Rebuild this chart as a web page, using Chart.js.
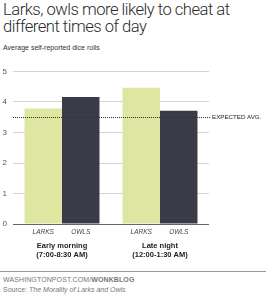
<!DOCTYPE html>
<html>
<head>
<meta charset="utf-8">
<script src="https://cdn.jsdelivr.net/npm/chart.js@4.4.0/dist/chart.umd.min.js"></script>
<style>
  body { margin: 0; width: 266px; height: 300px; background: #fff; font-family: "Liberation Sans", Arial, sans-serif; position: relative; overflow: hidden; }
  #title { position: absolute; left: 3px; top: 2px; font-family: Roboto, "Liberation Sans", sans-serif; font-weight: 300; font-size: 16.6px; line-height: 16.5px; color: #2a2a2a; letter-spacing: -0.5px; }
  #sub { position: absolute; left: 3px; top: 44px; font-size: 7px; color: #333; }
  #chartWrap { position: absolute; left: 0; top: 56px; }
  #rule { position: absolute; left: 0; top: 271px; width: 266px; height: 1px; background: #9a9a9a; }
  #src1 { position: absolute; left: 3px; top: 276px; font-size: 7px; color: #777; letter-spacing: 0.1px; }
  #src2 { position: absolute; left: 3px; top: 286px; font-size: 7px; color: #777; }
</style>
</head>
<body>
<div id="title">Larks, owls more likely to cheat at<br>different times of day</div>
<div id="sub">Average self-reported dice rolls</div>
<div id="chartWrap"><canvas id="diceChart" width="266" height="206"></canvas></div>
<div id="rule"></div>
<div id="src1">WASHINGTONPOST.COM/<b>WONKBLOG</b></div>
<div id="src2">Source: <i>The Morality of Larks and Owls</i></div>
<script>
// data
const groups = ['Early morning', 'Late night'];
const groupTimes = ['(7:00-8:30 AM)', '(12:00-1:30 AM)'];
const larks = [3.79, 4.47];
const owls = [4.16, 3.71];
const expectedAvg = 3.5;
const yTicks = [0, 1, 2, 3, 4, 5];

// dotted expected line + bar / group labels
const extras = {
    id: 'extras',
    afterDatasetsDraw(chart) {
        const c = chart.ctx, a = chart.chartArea;
        const y = chart.scales.y.getPixelForValue(expectedAvg);
        c.save();
        c.strokeStyle = '#333';
        c.lineWidth = 1;
        c.setLineDash([1, 1]);
        c.beginPath();
        c.moveTo(a.left, Math.round(y) + 0.5);
        c.lineTo(a.right + 1, Math.round(y) + 0.5);
        c.stroke();
        c.restore();
    },
    afterDraw(chart) {
        const c = chart.ctx, a = chart.chartArea;
        const y = chart.scales.y.getPixelForValue(expectedAvg);
        c.save();
        c.fillStyle = '#222';
        c.font = '6.2px "Liberation Sans", Arial, sans-serif';
        c.textBaseline = 'middle';
        c.textAlign = 'left';
        c.fillText('EXPECTED AVG.', a.right + 3, y);

        c.textAlign = 'center';
        chart.data.datasets.forEach((ds, di) => {
            chart.getDatasetMeta(di).data.forEach(bar => {
                c.fillStyle = '#444';
                c.font = 'italic 6.5px "Liberation Sans", Arial, sans-serif';
                c.fillText(ds.label, bar.x, a.bottom + 8);
            });
        });
        groups.forEach((g, i) => {
            const x = chart.scales.x.getPixelForValue(i);
            c.fillStyle = '#222';
            c.font = 'bold 7.5px "Liberation Sans", Arial, sans-serif';
            c.fillText(g, x, a.bottom + 22);
            c.fillText(groupTimes[i], x, a.bottom + 31);
        });
        c.restore();
    }
};

new Chart(document.getElementById('diceChart'), {
    type: 'bar',
    data: {
        labels: groups,
        datasets: [
            { label: 'LARKS', data: larks, backgroundColor: '#dfe6a2', categoryPercentage: 0.765, barPercentage: 1 },
            { label: 'OWLS', data: owls, backgroundColor: '#3b3a48', categoryPercentage: 0.765, barPercentage: 1 }
        ]
    },
    options: {
        responsive: false,
        animation: false,
        layout: { padding: { top: 15.5, right: 57, bottom: 38, left: 0 } },
        plugins: {
            legend: { display: false },
            tooltip: { enabled: false }
        },
        scales: {
            x: { display: false },
            y: {
                min: 0,
                max: 5,
                z: 1,
                afterFit(s) { s.width = 13; },
                afterBuildTicks(s) { s.ticks = yTicks.map(v => ({ value: v })); },
                ticks: {
                    padding: 6,
                    color: '#555',
                    font: { size: 8, family: '"Liberation Sans", Arial, sans-serif' }
                },
                grid: {
                    drawTicks: false,
                    color: ctx => ctx.tick.value === 0 ? '#666' : 'rgba(185,185,185,0.6)'
                },
                border: { display: false }
            }
        }
    },
    plugins: [extras]
});
</script>
</body>
</html>
